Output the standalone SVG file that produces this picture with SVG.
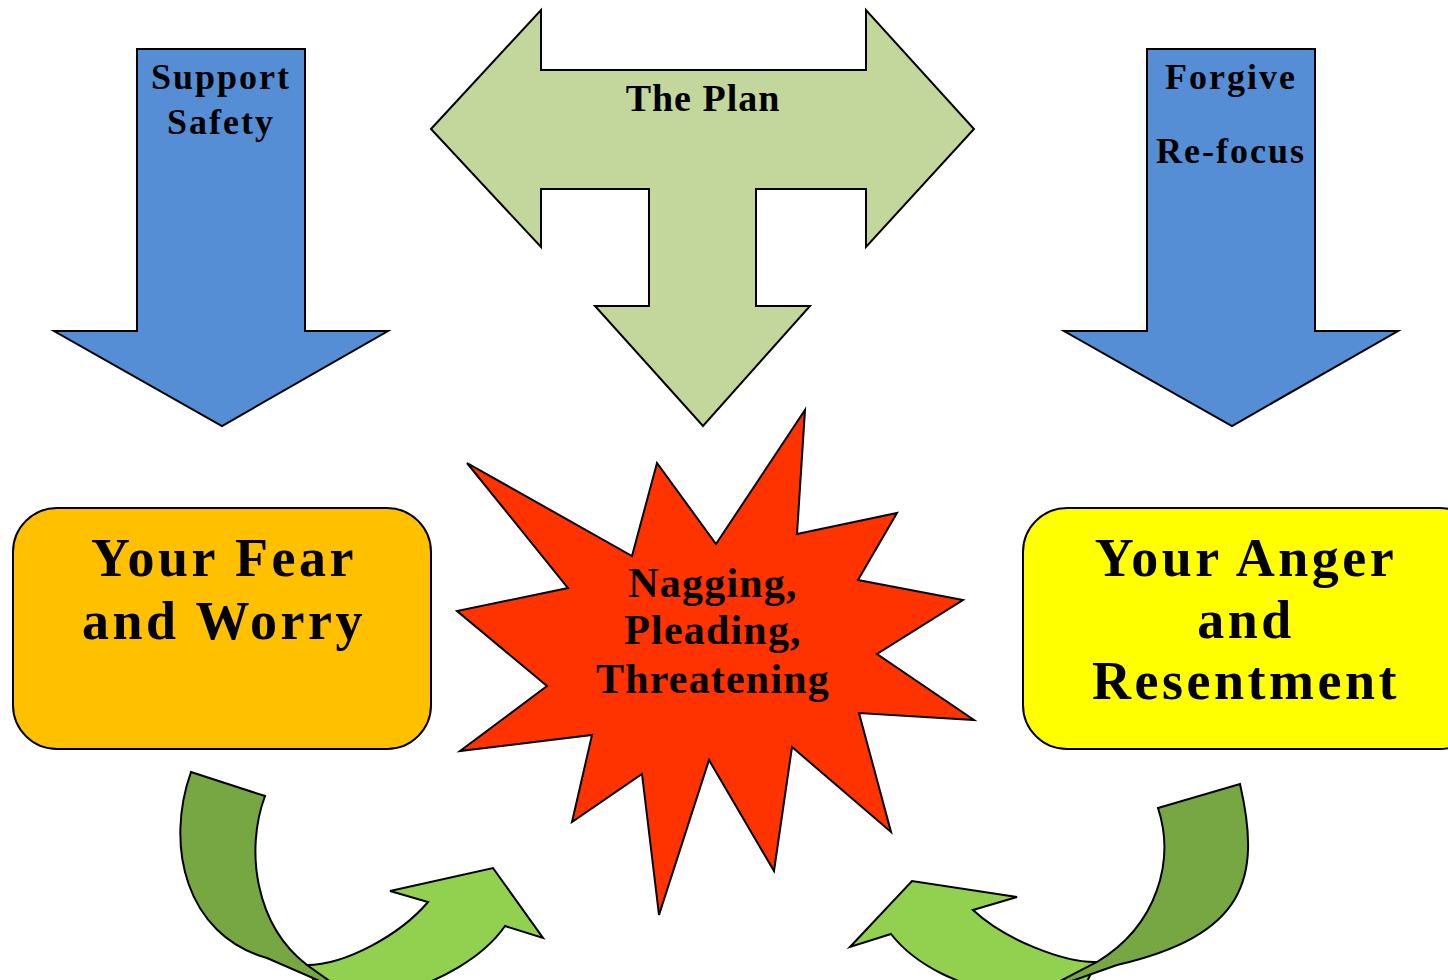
<svg xmlns="http://www.w3.org/2000/svg" width="1448" height="980" viewBox="0 0 1448 980">
<style>
.ol{stroke:#000;stroke-width:2;stroke-linejoin:miter}
.blue{fill:#558ED5}
.plan{fill:#C3D69B}
.dark{fill:#76A743}
.light{fill:#92D050}
.t{font-family:"Liberation Serif","Times New Roman",serif;font-weight:bold;fill:#000;text-anchor:middle}
.sm{font-size:36px;letter-spacing:2px}
.md{font-size:38px;letter-spacing:1px}
.st{font-size:42px;letter-spacing:1.2px}
.lg{font-size:54px;letter-spacing:3.5px}
</style>
<rect width="1448" height="980" fill="#fff"/>
<g id="connectors">
  <g id="arrow-support">
    <polygon class="blue ol" points="137,49 305,49 305,331 388,331 222,426 54,331 137,331"/>
    <text class="t sm" x="221" y="89">Support</text>
    <text class="t sm" x="221" y="134">Safety</text>
  </g>
  <g id="arrow-forgive">
    <polygon class="blue ol" points="1147,49 1315,49 1315,331 1398,331 1232,426 1064,331 1147,331"/>
    <text class="t sm" x="1231" y="89">Forgive</text>
    <text class="t sm" x="1231" y="163">Re-focus</text>
  </g>
  <g id="arrow-plan">
    <polygon class="plan ol" points="431,129 541,10 541,70 866,70 866,10 974,129 866,247 866,189 756,189 756,306 810,306 703,426 595,306 649,306 649,189 541,189 541,247"/>
    <text class="t md" x="703" y="111">The Plan</text>
  </g>
  <g id="curve-left">
    <path class="light ol" d="M307,965 C345,965 400,935 428,902 L390,891 L493,868 L543,938 L505,926 C485,955 440,985 380,997 L320,995 Z"/>
    <path class="dark ol" d="M191,772 L265,796 C245,850 255,925 307,965 L345,992 L267,958 C185,935 165,845 191,772 Z"/>
  </g>
  <g id="curve-right">
    <path class="light ol" d="M1097,962 C1065,963 1005,940 973,910 L1017,897 L912,881 L850,947 L891,934 C915,965 960,988 1020,997 L1080,995 Z"/>
    <path class="dark ol" d="M1158,808 L1240,784 C1262,880 1245,935 1117,965 L1035,994 L1097,962 C1158,925 1175,860 1158,808 Z"/>
  </g>
</g>
<g id="node-fear">
  <rect class="ol" x="13" y="508" width="418" height="241" rx="44" fill="#FFC000"/>
  <text class="t lg" x="224" y="576">Your Fear</text>
  <text class="t lg" x="224" y="639">and Worry</text>
</g>
<g id="node-anger">
  <rect class="ol" x="1023" y="508" width="460" height="241" rx="44" fill="#FFFF00"/>
  <text class="t lg" x="1246" y="576">Your Anger</text>
  <text class="t lg" x="1246" y="638">and</text>
  <text class="t lg" x="1246" y="699">Resentment</text>
</g>
<g id="node-nagging">
  <polygon class="ol" fill="#FF3300" points="467,463 632,556 657,463 716,544 805,410 797,534 897,513 858,580 963,600 877,654 974,720 859,713 891,832 792,747 774,871 709,760 659,915 642,774 572,822 592,735 460,751 547,686 457,611 568,588"/>
  <text class="t st" x="713" y="597">Nagging,</text>
  <text class="t st" x="713" y="644">Pleading,</text>
  <text class="t st" x="713" y="693">Threatening</text>
</g>
</svg>
